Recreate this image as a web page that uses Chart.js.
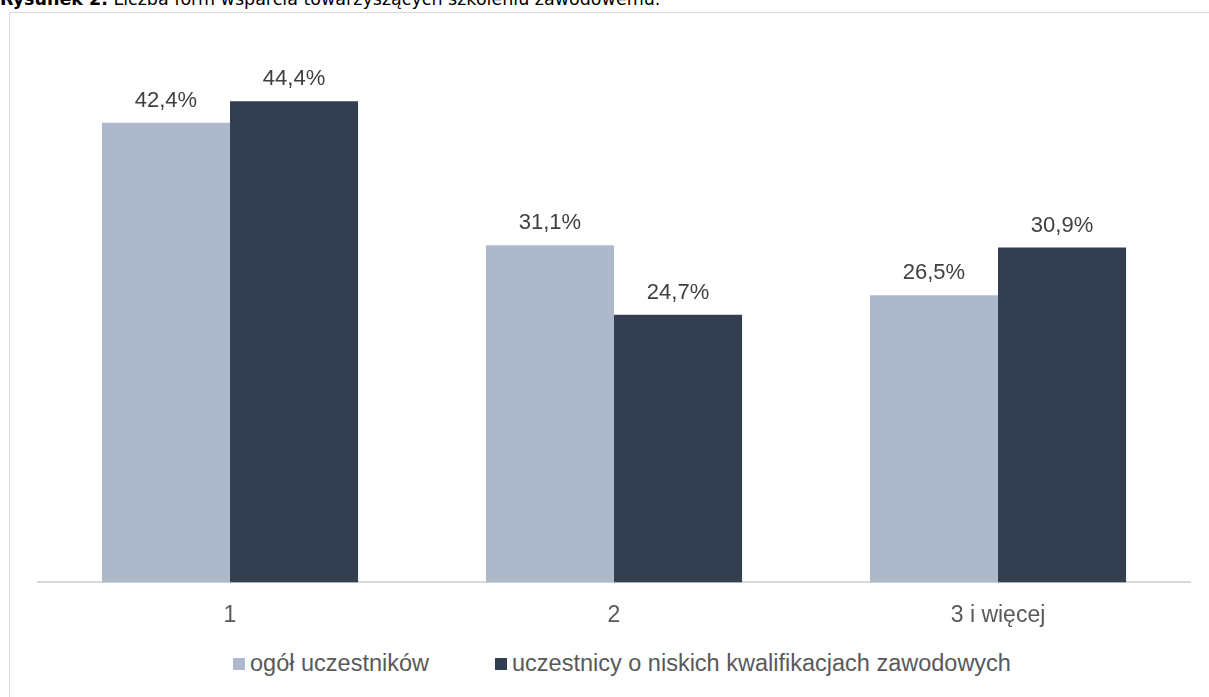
<!DOCTYPE html>
<html lang="pl">
<head>
<meta charset="utf-8">
<script src="https://cdn.jsdelivr.net/npm/chart.js@4"></script>
<style>
  html, body { margin: 0; padding: 0; background: #fff; overflow: hidden; }
  body { width: 1209px; height: 697px; position: relative; font-family: "Liberation Sans", Arial, sans-serif; }
  #tytul { position: absolute; left: 0; top: -11px; font-family: "DejaVu Sans", Verdana, sans-serif; font-size: 17.5px; color: #000; white-space: nowrap; }
  #ramka { position: absolute; left: 9px; top: 12px; width: 1210px; height: 700px; border: 1px solid #d9d9d9; box-sizing: border-box; }
  #wykres { position: absolute; left: 10px; top: 13px; width: 1199px; height: 635px; }
  #legenda { position: absolute; left: 46px; width: 1152px; top: 650px; line-height: 27px; display: flex; justify-content: center; gap: 66px; font-size: 23.5px; color: #595959; }
  #legenda span.poz { display: flex; align-items: center; }
  #legenda i { display: inline-block; width: 12px; height: 12px; margin-right: 5px; }
</style>
</head>
<body>
<div id="tytul"><b>Rysunek 2.</b> Liczba form wsparcia towarzyszących szkoleniu zawodowemu.</div>
<div id="ramka"></div>
<div id="wykres"><canvas id="wykresCanvas"></canvas></div>
<div id="legenda"></div>
<script>
// Kategorie i wartości (%)
const kategorie = ["1", "2", "3 i więcej"];
const ogolUczestnikow = [42.4, 31.1, 26.5];
const niskieKwalifikacje = [44.4, 24.7, 30.9];
const nazwySerii = ["ogół uczestników", "uczestnicy o niskich kwalifikacjach zawodowych"];
const kolory = ["#adb9ca", "#333f50"];

// Etykiety wartości nad słupkami
const etykietyWartosci = {
  id: "etykietyWartosci",
  afterDatasetsDraw(chart) {
    const ctx = chart.ctx;
    ctx.save();
    ctx.font = '22px "Liberation Sans"';
    ctx.fillStyle = "#404040";
    ctx.textAlign = "center";
    ctx.textBaseline = "alphabetic";
    chart.data.datasets.forEach((ds, i) => {
      chart.getDatasetMeta(i).data.forEach((bar, j) => {
        const tekst = ds.data[j].toFixed(1).replace(".", ",") + "%";
        ctx.fillText(tekst, bar.x, bar.y - 16);
      });
    });
    ctx.restore();
  },
};

const config = {
  type: "bar",
  data: {
    labels: kategorie,
    datasets: [
      { label: nazwySerii[0], data: ogolUczestnikow, backgroundColor: kolory[0] },
      { label: nazwySerii[1], data: niskieKwalifikacje, backgroundColor: kolory[1] },
    ],
  },
  options: {
    responsive: true,
    maintainAspectRatio: false,
    animation: false,
    categoryPercentage: 0.667,
    barPercentage: 1.0,
    layout: { padding: { left: 28, right: 19, top: 27.5, bottom: 0 } },
    plugins: {
      legend: { display: false },
      tooltip: { enabled: false },
    },
    scales: {
      x: {
        grid: { display: false, drawTicks: false },
        border: { display: true, color: "#d9d9d9", width: 2 },
        ticks: { color: "#595959", font: { family: "Liberation Sans", size: 23 }, padding: 19 },
      },
      y: {
        display: false,
        min: 0,
        max: 50,
      },
    },
  },
  plugins: [etykietyWartosci],
};

const wykres = new Chart(document.getElementById("wykresCanvas"), config);

// Legenda pod wykresem
const legenda = document.getElementById("legenda");
nazwySerii.forEach((nazwa, i) => {
  const poz = document.createElement("span");
  poz.className = "poz";
  const znacznik = document.createElement("i");
  znacznik.style.background = kolory[i];
  poz.appendChild(znacznik);
  poz.appendChild(document.createTextNode(nazwa));
  legenda.appendChild(poz);
});
</script>
</body>
</html>
